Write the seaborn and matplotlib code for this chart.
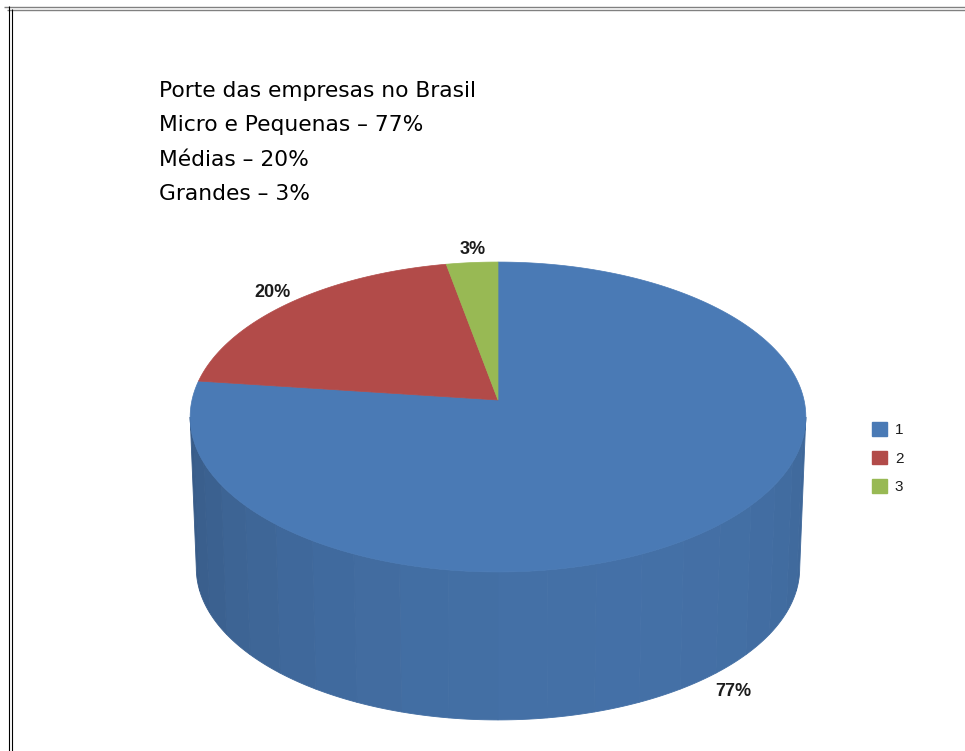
import numpy as np
import matplotlib
matplotlib.use("Agg")
import matplotlib.pyplot as plt
from matplotlib.patches import Polygon, Patch
from matplotlib import font_manager
import seaborn as sns

# ---------------- data ----------------
categories = ["1", "2", "3"]
values = [77, 20, 3]
pct_labels = ["77%", "20%", "3%"]
title_lines = ["Porte das empresas no Brasil",
               "Micro e Pequenas \u2013 77%",
               "Médias \u2013 20%",
               "Grandes \u2013 3%"]
colors = ["#4a7ab5", "#b24b49", "#98b954"]

sns.set_theme(style="white")
plt.rcParams['font.family'] = ['Liberation Sans', 'DejaVu Sans']

installed = {f.name for f in font_manager.fontManager.ttflist}
label_family = 'Liberation Sans Narrow' if 'Liberation Sans Narrow' in installed else 'Liberation Sans'

W, H = 965, 751
fig = plt.figure(figsize=(W / 100, H / 100), dpi=100)
fig.patch.set_facecolor("white")
ax = fig.add_axes([0, 0, 1, 1])
ax.set_xlim(0, W)
ax.set_ylim(H, 0)
ax.axis('off')

# ---------------- 3D pie geometry (perspective projection) ----------------
CX, CY = 498, 400
A, B, K = 306, 153.1, 0.1097
DEPTH_SHIFT, BOT_SCALE = 151.4, 0.98


def proj(theta_deg, r=1.0, bottom=False):
    t = np.radians(theta_deg)
    d = 1 + K * r * np.cos(t)
    x = A * r * np.sin(t) / d
    y = -B * r * np.cos(t) / d
    if bottom:
        return CX + BOT_SCALE * x, CY + DEPTH_SHIFT + BOT_SCALE * y
    return CX + x, CY + y


def shade(hex_color, f):
    rgb = np.array(matplotlib.colors.to_rgb(hex_color))
    return tuple(np.clip(rgb * f, 0, 1))


total = float(sum(values))
bounds = np.concatenate([[0], np.cumsum(values) / total * 360.0])


def slice_at(theta):
    for i in range(len(values)):
        if bounds[i] <= theta < bounds[i + 1]:
            return i
    return len(values) - 1


# visible side (front half), drawn as shaded facets
th_r = np.degrees(np.arccos(-K))
th_l = 360 - th_r
edges = np.linspace(th_r, th_l, 21)
for a0, a1 in zip(edges[:-1], edges[1:]):
    ts = np.linspace(a0, a1, 12)
    tx, ty = proj(ts)
    bx, by = proj(ts[::-1], bottom=True)
    pts = np.column_stack([np.concatenate([tx, bx]), np.concatenate([ty, by])])
    mid = 0.5 * (a0 + a1)
    f = 0.78 + 0.14 * np.cos(np.radians(mid - 160))
    c = shade(colors[slice_at(mid)], f)
    ax.add_patch(Polygon(pts, closed=True, facecolor=c, edgecolor=c, lw=0.6))

# top faces
for i in range(len(values)):
    ts = np.linspace(bounds[i], bounds[i + 1], 200)
    x, y = proj(ts)
    pts = np.column_stack([np.concatenate([[CX], x]), np.concatenate([[CY], y])])
    ax.add_patch(Polygon(pts, closed=True, facecolor=colors[i],
                         edgecolor=colors[i], lw=0.5))

# percentage labels
for i in range(len(values)):
    mid = 0.5 * (bounds[i] + bounds[i + 1])
    front = np.cos(np.radians(mid)) < 0
    lx, ly = proj(mid, r=1.06 if front else 1.11)
    if front:
        ly += DEPTH_SHIFT + 7
    else:
        lx += 3
    ax.text(lx, ly, pct_labels[i], ha='center', va='center', fontsize=13,
            fontweight='bold', color='#1c1c1c', family=label_family)

# title block
for j, line in enumerate(title_lines):
    ax.text(159, 97 + j * 34.4, line, ha='left', va='baseline', fontsize=15.7,
            color='#000000', family=['DejaVu Sans'])

# legend
handles = [Patch(facecolor=c, edgecolor=c) for c in colors]
leg = fig.legend(handles, categories, loc='upper left',
                 bbox_to_anchor=(872 / W, 1 - 422 / H), frameon=False,
                 fontsize=11, handlelength=1.0, handleheight=1.0,
                 handletextpad=0.5, labelspacing=0.88, borderpad=0,
                 borderaxespad=0)
for t in leg.get_texts():
    t.set_color('#1c1c1c')

# page borders
ax.plot([4, W], [6.5, 6.5], color='#808080', lw=1.0, solid_capstyle='butt')
ax.plot([7, W], [9.5, 9.5], color='#808080', lw=1.0, solid_capstyle='butt')
ax.plot([8.5, 8.5], [6, H], color='#000000', lw=0.8, solid_capstyle='butt')
ax.plot([11.5, 11.5], [9, H], color='#000000', lw=0.8, solid_capstyle='butt')

fig.savefig("out.png", dpi=100, facecolor="white")
